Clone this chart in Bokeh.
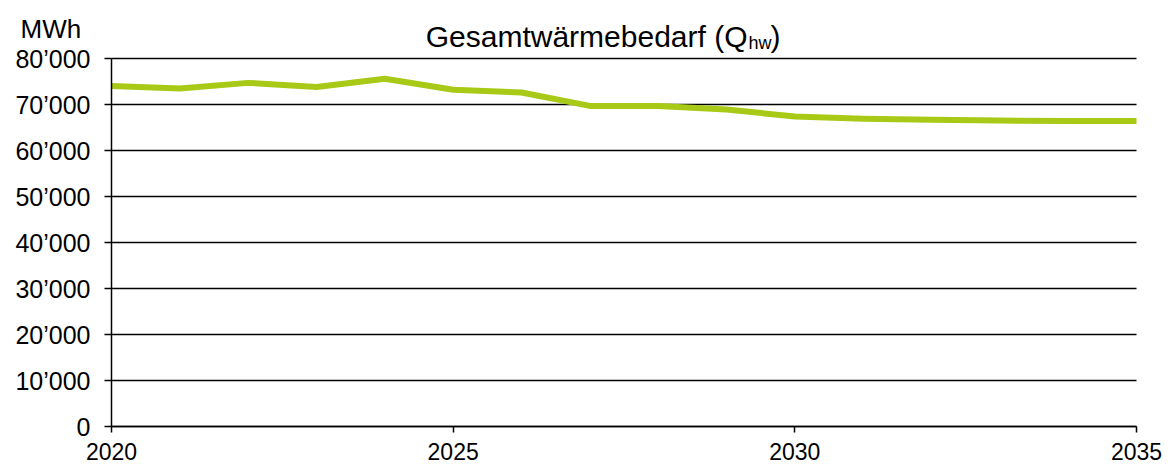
from bokeh.plotting import figure
from bokeh.models import Range1d, FixedTicker, CustomJSTickFormatter, Label, LinearAxis
from bokeh.embed import file_html
from bokeh.resources import INLINE

years = list(range(2020, 2036))
waermebedarf = [74000, 73500, 74700, 73800, 75600, 73200, 72600, 69700,
                69700, 68900, 67400, 66900, 66700, 66500, 66400, 66400]
y_ticks = [0, 10000, 20000, 30000, 40000, 50000, 60000, 70000, 80000]
x_ticks = [2020, 2025, 2030, 2035]
unit_label = "MWh"
title_main = "Gesamtwärmebedarf (Q"
title_sub = "hw"
title_end = ")"

FONT = "Liberation Sans"

# canvas layout (pixels)
W, H = 1170, 467
X0_PX, X1_PX = 111, 1136      # pixel positions of first / last x tick
Y0_PX, Y1_PX = 426, 58        # pixel positions of first / last y tick
px_per_x = (X1_PX - X0_PX) / (x_ticks[-1] - x_ticks[0])
px_per_y = (Y0_PX - Y1_PX) / (y_ticks[-1] - y_ticks[0])
x_start = x_ticks[0] - X0_PX / px_per_x
x_end = x_ticks[0] + (W - X0_PX) / px_per_x
y_start = y_ticks[0] - (H - Y0_PX) / px_per_y
y_end = y_ticks[0] + Y0_PX / px_per_y

p = figure(frame_width=W, frame_height=H, output_backend="svg",
           toolbar_location=None, x_range=Range1d(x_start, x_end),
           y_range=Range1d(y_start, y_end),
           x_axis_location=None, y_axis_location=None,
           min_border_left=0, min_border_right=0, min_border_top=0,
           min_border_bottom=0)
p.outline_line_color = None
p.background_fill_color = "white"
p.border_fill_color = "white"
p.xgrid.grid_line_color = None
p.ygrid.grid_line_color = None

# horizontal grid lines between first and last year
n = len(y_ticks)
p.segment(x0=[x_ticks[0]] * n, x1=[x_ticks[-1]] * n, y0=y_ticks, y1=y_ticks,
          line_color="black", line_width=1.5)

p.line(years, waermebedarf, line_color="#A8C915", line_width=6,
       line_join="round")

# y axis
ya = LinearAxis(fixed_location=x_ticks[0], bounds=(y_ticks[0], y_ticks[-1]))
ya.ticker = FixedTicker(ticks=y_ticks)
ya.formatter = CustomJSTickFormatter(code=r"""
return Math.round(tick).toString().replace(/\B(?=(\d{3})+(?!\d))/g, "\u2019");
""")
ya.axis_line_color = "black"
ya.axis_line_width = 1.5
ya.major_tick_line_color = "black"
ya.major_tick_line_width = 1.5
ya.major_tick_out = 7
ya.major_tick_in = 0
ya.minor_tick_line_color = None
ya.major_label_text_font = FONT
ya.major_label_text_font_size = "25px"
ya.major_label_text_color = "black"
ya.major_label_standoff = 14
p.add_layout(ya, "left")

# x axis
xa = LinearAxis(fixed_location=y_ticks[0], bounds=(x_ticks[0], x_ticks[-1]))
xa.ticker = FixedTicker(ticks=x_ticks)
xa.axis_line_color = "black"
xa.axis_line_width = 1.5
xa.major_tick_line_color = "black"
xa.major_tick_line_width = 1.5
xa.major_tick_out = 6
xa.major_tick_in = 0
xa.minor_tick_line_color = None
xa.major_label_text_font = FONT
xa.major_label_text_font_size = "23px"
xa.major_label_text_color = "black"
xa.major_label_standoff = 10
p.add_layout(xa, "below")

# title pieces and unit (screen units measured from bottom-left of frame)
p.add_layout(Label(x=747, y=H - 36, x_units="screen", y_units="screen",
                   text=title_main, text_align="right",
                   text_baseline="alphabetic", text_font=FONT,
                   text_font_size="30px", text_color="black"))
p.add_layout(Label(x=748, y=H - 42, x_units="screen", y_units="screen",
                   text=title_sub, text_align="left",
                   text_baseline="alphabetic", text_font=FONT,
                   text_font_size="18px", text_color="black"))
p.add_layout(Label(x=770, y=H - 36, x_units="screen", y_units="screen",
                   text=title_end, text_align="left",
                   text_baseline="alphabetic", text_font=FONT,
                   text_font_size="30px", text_color="black"))
p.add_layout(Label(x=20, y=H - 28, x_units="screen", y_units="screen",
                   text=unit_label, text_align="left",
                   text_baseline="alphabetic", text_font=FONT,
                   text_font_size="26px", text_color="black"))

open("out.html", "w").write(file_html(p, INLINE))
